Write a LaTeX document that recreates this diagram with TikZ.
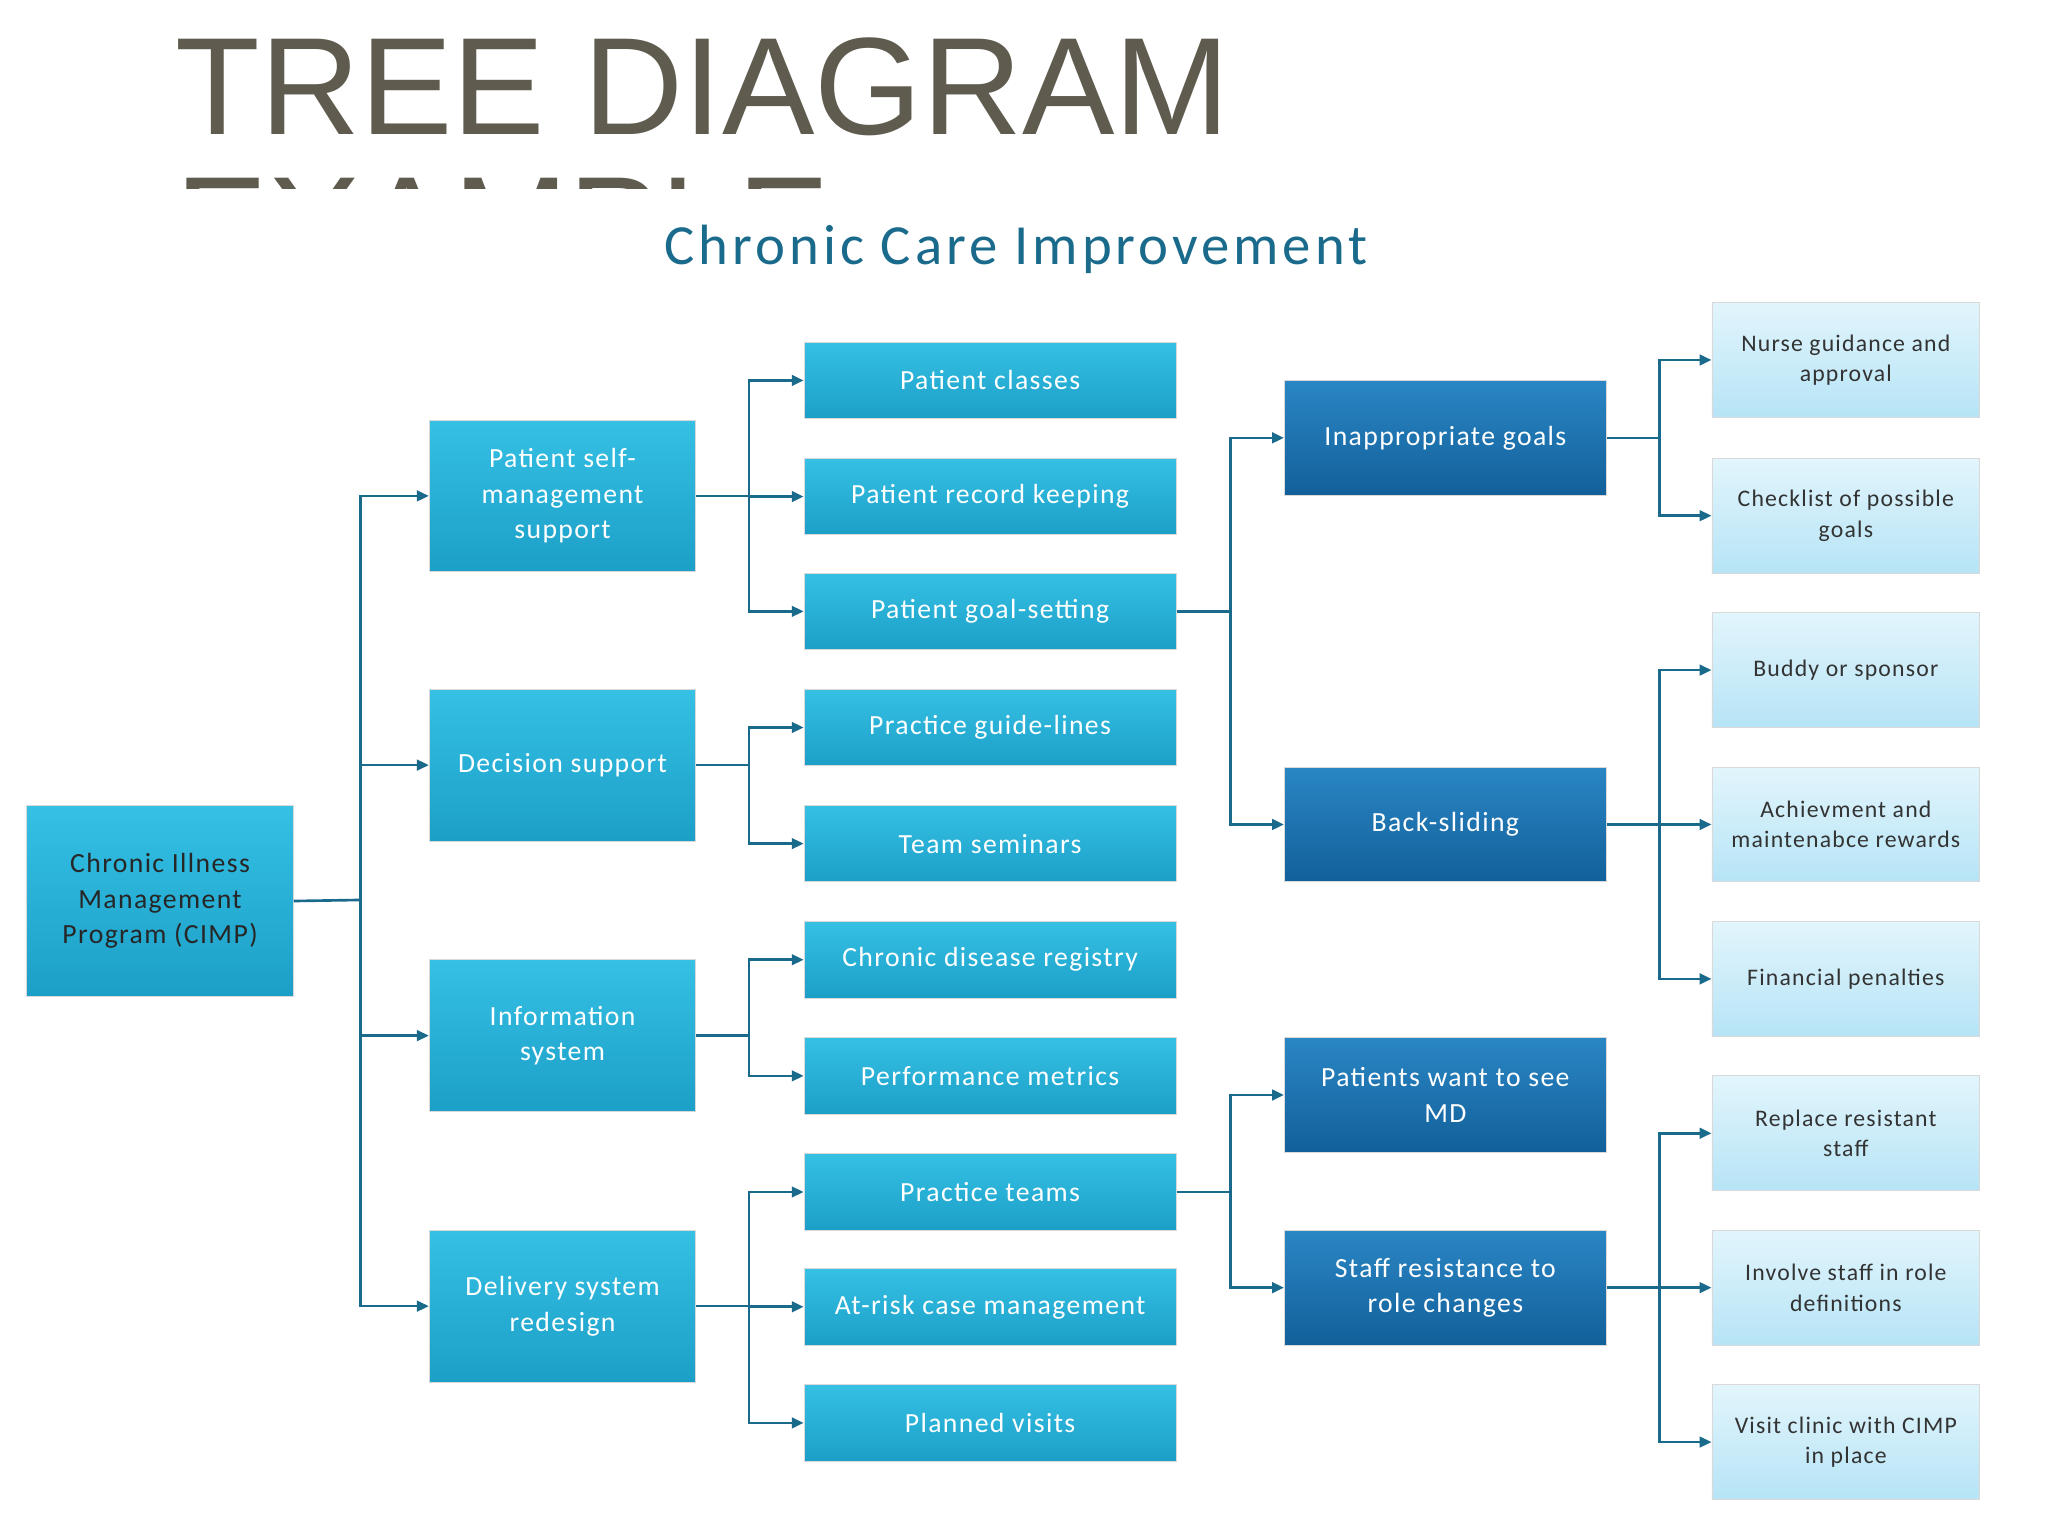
\documentclass[tikz,border=0pt]{standalone}
\usepackage{fontspec}
\setmainfont{Liberation Sans}
\newfontfamily\boxfont[LetterSpace=5]{Carlito}
\newfontfamily\ttlfont[LetterSpace=7]{Carlito}
\usetikzlibrary{arrows.meta,calc}
\definecolor{lc}{HTML}{1C9FC7}
\definecolor{lt}{HTML}{35C0E4}
\definecolor{dk}{HTML}{12609A}
\definecolor{dt}{HTML}{2A86C4}
\definecolor{pl}{HTML}{B6E4F6}
\definecolor{pt}{HTML}{E2F5FC}
\definecolor{ln}{HTML}{1A6A8C}
\begin{document}
\begin{tikzpicture}[x=1pt,y=-1pt,
 bx/.style={draw=white!70!gray,line width=0.6pt,inner sep=2pt,align=center,anchor=north west,font=\boxfont\fontsize{21}{27}\selectfont,text=white},
 cy/.style={bx,top color=lt,bottom color=lc},
 db/.style={bx,top color=dt,bottom color=dk},
 pb/.style={bx,top color=pt,bottom color=pl,text=black!80,font=\boxfont\fontsize{18}{23}\selectfont},
 ar/.style={draw=ln,line width=2pt,-{Triangle[length=9pt,width=8pt]}},
 ln/.style={draw=ln,line width=2pt}]
\useasboundingbox (0,0) rectangle (1552,1164);
\fill[white] (0,0) rectangle (1552,1164);
\begin{scope}
\clip (0,0) rectangle (1552,143);
\node[anchor=base west,font=\fontsize{105}{110}\selectfont,text=black!75!olive!60!gray,align=left,inner sep=0] (t) at (133,102) {TREE DIAGRAM};
\node[anchor=base west,font=\fontsize{105}{110}\selectfont,text=black!75!olive!60!gray,inner sep=0] (t2) at (133,207) {EXAMPLE};
\end{scope}
\node[font=\ttlfont\fontsize{43}{46}\selectfont,text=ln] (ct) at (770,189) {Chronic Care Improvement};
% root
\node[cy,minimum width=202,minimum height=145,text=black!85] (r) at (20,610) {Chronic Illness\\Management\\Program (CIMP)};
% level1
\foreach \n/\y/\t in {a/318/{Patient self-\\management\\support},b/522/Decision support,c/727/{Information\\system},d/932/{Delivery system\\redesign}}
 \node[cy,minimum width=202,minimum height=115] (\n) at (325,\y) {\t};
% level2
\foreach \n/\y/\t in {a1/259/Patient classes,a2/347/Patient record keeping,a3/434/Patient goal-setting,b1/522/Practice guide-lines,b2/610/Team seminars,c1/698/Chronic disease registry,c2/786/Performance metrics,d1/874/Practice teams,d2/961/At-risk case management,d3/1049/Planned visits}
 \node[cy,minimum width=282,minimum height=58] (\n) at (609,\y) {\t};
% level3
\foreach \n/\y/\t in {g1/288/Inappropriate goals,g2/581/Back-sliding,h1/786/{Patients want to see\\MD},h2/932/{Staff resistance to\\role changes}}
 \node[db,minimum width=244,minimum height=87] (\n) at (973,\y) {\t};
% level4
\foreach \n/\y/\t in {p1/229/{Nurse guidance and\\approval},p2/347/{Checklist of possible\\goals},q1/464/Buddy or sponsor,q2/581/{Achievment and\\maintenabce rewards},q3/698/Financial penalties,s1/815/{Replace resistant\\staff},s2/932/{Involve staff in role\\definitions},s3/1049/{Visit clinic with CIMP\\in place}}
 \node[pb,minimum width=203,minimum height=87] (\n) at (1297,\y) {\t};
% connectors
\coordinate (br) at (273,682);
\draw[ln] (r.east) -- (br);
\foreach \n in {a,b,c,d} \draw[ar] (br) |- (\n.west);
\foreach \p/\ch in {a/{a1,a2,a3},b/{b1,b2},c/{c1,c2},d/{d1,d2,d3}}{
 \coordinate (m\p) at ($(\p.east)+(40,0)$);
 \draw[ln] (\p.east) -- (m\p);
 \foreach \k in \ch \draw[ar] (m\p) |- (\k.west);
}
\foreach \p/\ch in {a3/{g1,g2},d1/{h1,h2}}{
 \coordinate (m\p) at ($(\p.east)+(41,0)$);
 \draw[ln] (\p.east) -- (m\p);
 \foreach \k in \ch \draw[ar] (m\p) |- (\k.west);
}
\foreach \p/\ch in {g1/{p1,p2},g2/{q1,q2,q3},h2/{s1,s2,s3}}{
 \coordinate (m\p) at ($(\p.east)+(40,0)$);
 \draw[ln] (\p.east) -- (m\p);
 \foreach \k in \ch \draw[ar] (m\p) |- (\k.west);
}
\end{tikzpicture}
\end{document}
